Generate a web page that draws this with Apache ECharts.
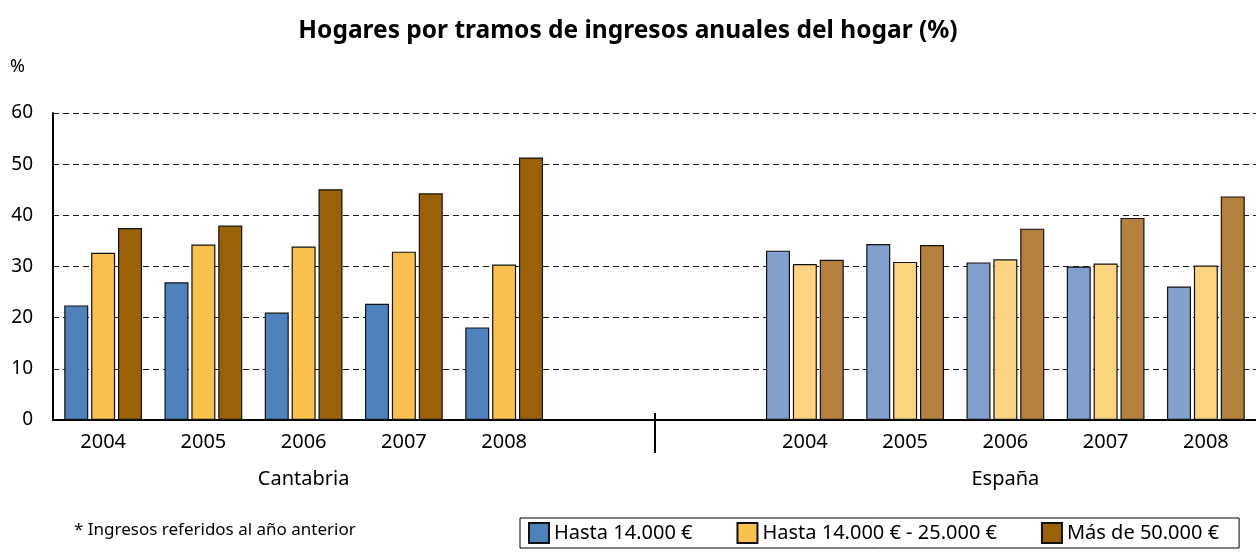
<!DOCTYPE html>
<html>
<head>
<meta charset="utf-8">
<script src="https://cdn.jsdelivr.net/npm/echarts@6/dist/echarts.min.js"></script>
<style>
  html, body { margin: 0; padding: 0; background: #fff; }
  #chart { width: 1256px; height: 557px; }
</style>
</head>
<body>
<div id="chart"></div>
<script>
const years = ['2004', '2005', '2006', '2007', '2008']
const seriesNames = ['Hasta 14.000 €', 'Hasta 14.000 € - 25.000 €', 'Más de 50.000 €']

const cantabriaHasta14 = [22.4, 26.9, 21.0, 22.7, 18.1]
const cantabria14a25 = [32.7, 34.3, 33.9, 32.9, 30.4]
const cantabriaMas50 = [37.5, 38.0, 45.1, 44.3, 51.3]

const espanaHasta14 = [33.1, 34.4, 30.8, 30.0, 26.1]
const espana14a25 = [30.5, 30.9, 31.4, 30.6, 30.2]
const espanaMas50 = [31.3, 34.2, 37.4, 39.5, 43.7]

// 5 years Cantabria, two empty slots, 5 years España
const categories = [...years, '', '', ...years]
const groupLabels = ['', '', 'Cantabria', '', '', '', '', '', '', 'España', '', '']

const darkColors = ['#4f81bd', '#fac14f', '#9a6106']
const lightColors = ['#82a0cd', '#fdd47f', '#b3813d']

const font = 'Noto Sans'

const buildData = (cant, esp, idx) => {
  const out = cant.slice()
  out.push('-', '-')
  esp.forEach(v => out.push({ value: v, itemStyle: { color: lightColors[idx] } }))
  return out
}

const chart = echarts.init(document.getElementById('chart'), null, { renderer: 'canvas' })

const option = {
  animation: false,
  backgroundColor: '#fff',
  textStyle: { fontFamily: font, color: '#000' },
  title: [
    {
      text: 'Hogares por tramos de ingresos anuales del hogar (%)',
      left: 'center', top: 19, padding: 0,
      textStyle: { fontFamily: font, fontSize: 24.5, fontWeight: 'bold', color: '#000' }
    },
    {
      text: '%', left: 10, top: 58, padding: 0,
      textStyle: { fontFamily: font, fontSize: 18, fontWeight: 'normal', color: '#000' }
    },
    {
      text: '* Ingresos referidos al año anterior', left: 74, top: 522, padding: 0,
      textStyle: { fontFamily: font, fontSize: 17, fontWeight: 'normal', color: '#000' }
    }
  ],
  legend: {
    data: seriesNames,
    left: 520, top: 518,
    icon: 'rect', itemWidth: 20, itemHeight: 20, itemGap: 44,
    padding: [4, 20, 4, 8],
    borderColor: '#000', borderWidth: 1,
    textStyle: { fontFamily: font, fontSize: 20, color: '#000' }
  },
  grid: { left: 53, right: -7, top: 113, bottom: 137, containLabel: false },
  xAxis: [
    {
      type: 'category',
      data: categories,
      position: 'bottom',
      axisLine: { lineStyle: { color: '#000', width: 2 } },
      axisTick: { inside: true, length: 6, lineStyle: { color: '#000', width: 2 } },
      axisLabel: { interval: 0, margin: 12, fontSize: 20, color: '#000', fontFamily: font }
    },
    {
      type: 'category',
      data: groupLabels,
      position: 'bottom',
      axisLine: { show: false },
      axisTick: { show: false },
      axisLabel: { interval: 0, margin: 49, fontSize: 20, color: '#000', fontFamily: font }
    }
  ],
  yAxis: {
    type: 'value',
    min: 0, max: 60, interval: 10,
    axisLine: { show: true, lineStyle: { color: '#000', width: 2 } },
    axisTick: { show: false },
    splitLine: { lineStyle: { type: [6, 4], color: '#1a1a1a', width: 1 } },
    axisLabel: { margin: 20, fontSize: 19, color: '#000', fontFamily: font, padding: [10, 0, 0, 0] }
  },
  series: [
    [cantabriaHasta14, espanaHasta14],
    [cantabria14a25, espana14a25],
    [cantabriaMas50, espanaMas50]
  ].map((pair, i) => ({
    name: seriesNames[i],
    type: 'bar',
    barWidth: 24,
    barGap: '12%',
    itemStyle: { color: darkColors[i], borderColor: '#111', borderWidth: 1.2 },
    data: buildData(pair[0], pair[1], i)
  }))
}

chart.setOption(option)

// long separator tick between the Cantabria and España groups
const xa = chart.convertToPixel({ xAxisIndex: 0 }, 5)
const xb = chart.convertToPixel({ xAxisIndex: 0 }, 6)
const sepX = Math.round((xa + xb) / 2)
const y0 = chart.convertToPixel({ yAxisIndex: 0 }, 0)
chart.setOption({
  graphic: [{
    type: 'line',
    shape: { x1: sepX, y1: y0 - 7, x2: sepX, y2: y0 + 33 },
    style: { stroke: '#000', lineWidth: 2 }
  }]
})
</script>
</body>
</html>
